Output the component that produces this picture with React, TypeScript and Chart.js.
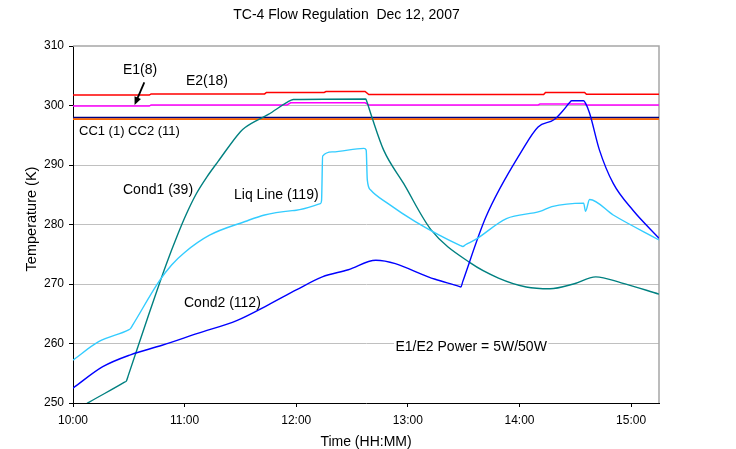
import { useEffect, useRef } from "react";
import { Chart, registerables } from "chart.js";

Chart.register(...registerables);

const FONT = "'Liberation Sans', Arial, Helvetica, sans-serif";

// Clock labels along the time axis; minutes are counted from 10:00.
const xTickLabels = ["10:00", "11:00", "12:00", "13:00", "14:00", "15:00"];
const timeMax = 315; // 15:15

// CC1 (1)
const cc1Time = [0, 315];
const cc1Temp = [297.95, 297.95];

// E1 (8)
const e1Time = [0, 41, 42, 115, 117, 157, 159, 250, 251, 275, 276, 315];
const e1Temp = [299.9, 299.9, 300.1, 300.1, 300.45, 300.45, 300.1, 300.1, 300.25, 300.25, 300.1, 300.1];

// CC2 (11)
const cc2Time = [0, 315];
const cc2Temp = [297.7, 297.7];

// E2 (18)
const e2Time = [0, 41, 42, 103, 104, 135, 136, 157, 159, 253, 254, 275, 276, 315];
const e2Temp = [301.75, 301.75, 301.95, 301.95, 302.2, 302.2, 302.35, 302.35, 301.85, 301.85, 302.2, 302.2, 301.9, 301.9];

// Cond1 (39)
const cond1Time = [0, 8.5, 27.7, 28.7, 29.7, 40, 50, 56.4, 61, 66, 72, 78, 90, 92.5, 105, 117.3, 118.5, 157.4, 157.9, 160.6, 167, 177.7, 192.5, 213.8, 228.7, 243.6, 256.4, 269, 281, 294.7, 315];
const cond1Temp = [248.5, 250.1, 253.5, 253.7, 254.6, 264.2, 273.2, 278.4, 281.8, 285.0, 288.0, 290.6, 295.6, 296.3, 298.5, 300.9, 301.0, 301.1, 300.7, 298.1, 292.5, 286.9, 279.1, 273.5, 271.0, 269.5, 269.2, 270.0, 271.2, 270.2, 268.3];

// Cond2 (112)
const cond2Time = [0, 16, 30.9, 47.9, 67, 88.3, 105, 120, 134, 148, 162.8, 194.7, 207.5, 208.5, 209.5, 222, 241.5, 250, 258.5, 263, 267, 268, 274.5, 275.5, 277.7, 283, 290.4, 301, 315];
const cond2Temp = [252.5, 256.1, 258.1, 259.7, 261.7, 263.9, 266.5, 269.0, 271.2, 272.4, 274.0, 270.8, 269.6, 269.5, 270.4, 281.3, 292.5, 296.4, 297.6, 299.0, 300.5, 300.8, 300.8, 300.4, 298.7, 292.5, 286.9, 282.4, 277.7];

// Liq Line (119)
const liqTime = [0, 13.8, 29.9, 30.9, 31.9, 46.6, 53, 60, 73.4, 92.5, 103, 120, 133, 133.6, 134.2, 139.4, 156.4, 157.6, 158.2, 160, 169, 184, 208, 209.6, 211, 216, 233, 251, 257.4, 274.5, 275.5, 277.7, 290.4, 315];
const liqTemp = [257.2, 260.3, 262.3, 262.5, 263.0, 270.6, 273.2, 275.3, 278.2, 280.5, 281.6, 282.4, 283.5, 284.0, 291.5, 292.2, 292.8, 292.5, 287.5, 285.8, 283.6, 280.5, 276.5, 276.3, 276.6, 277.4, 281.0, 282.2, 283.0, 283.6, 282.2, 284.2, 281.6, 277.4];

const toMinutes = (clock: string) => {
  const [h, m] = clock.split(":").map(Number);
  return (h - 10) * 60 + m;
};

const pts = (t: number[], v: number[]) => t.map((x, i) => ({ x, y: v[i] }));

const curve = (data: { x: number; y: number }[], color: string, width = 1.4) => ({
  data,
  borderColor: color,
  backgroundColor: color,
  borderWidth: width,
  pointRadius: 0,
  cubicInterpolationMode: "monotone" as const,
  fill: false,
});

const trace = (data: { x: number; y: number }[], color: string, width = 1.5) => ({
  data,
  borderColor: color,
  backgroundColor: color,
  borderWidth: width,
  pointRadius: 0,
  tension: 0,
  fill: false,
});

// Plot frame, titles, series names and the power note.
const annotations = {
  id: "annotations",
  beforeDatasetsDraw(chart: Chart) {
    const { ctx, chartArea } = chart;
    ctx.save();
    ctx.strokeStyle = "#a6a6a6";
    ctx.lineWidth = 1.5;
    ctx.beginPath();
    ctx.moveTo(chartArea.left, chartArea.top);
    ctx.lineTo(chartArea.right, chartArea.top);
    ctx.lineTo(chartArea.right, chartArea.bottom);
    ctx.stroke();
    ctx.restore();
  },
  afterDraw(chart: Chart) {
    const { ctx, chartArea } = chart;
    ctx.save();
    ctx.fillStyle = "#000";
    ctx.textBaseline = "alphabetic";

    ctx.font = `14px ${FONT}`;
    ctx.textAlign = "center";
    ctx.fillText("TC-4 Flow Regulation  Dec 12, 2007", 346.5, 18.5);
    ctx.fillText("Time (HH:MM)", (chartArea.left + chartArea.right) / 2, 445.5);

    ctx.save();
    ctx.font = `14.5px ${FONT}`;
    ctx.translate(35.5, 219);
    ctx.rotate(-Math.PI / 2);
    ctx.fillText("Temperature (K)", 0, 0);
    ctx.restore();

    ctx.textAlign = "left";
    ctx.font = `14px ${FONT}`;
    ctx.fillText("E1(8)", 123, 73.5);
    ctx.fillText("E2(18)", 186, 85);
    ctx.fillText("Cond1 (39)", 123, 193.5);
    ctx.fillText("Liq Line (119)", 234, 198.5);
    ctx.fillText("Cond2 (112)", 184, 306.5);
    ctx.font = `13px ${FONT}`;
    ctx.fillText("CC1 (1) CC2 (11)", 79, 135);

    ctx.font = `14px ${FONT}`;
    const note = "E1/E2 Power = 5W/50W";
    const w = ctx.measureText(note).width;
    ctx.fillStyle = "#fff";
    ctx.fillRect(394, 337, w + 3, 17);
    ctx.fillStyle = "#000";
    ctx.fillText(note, 395.5, 350.5);

    // arrow pointing at the E1 trace
    const x0 = 144.3, y0 = 82.3, x1 = 134.6, y1 = 105;
    const ang = Math.atan2(y1 - y0, x1 - x0);
    ctx.strokeStyle = "#000";
    ctx.lineWidth = 1.8;
    ctx.beginPath();
    ctx.moveTo(x0, y0);
    ctx.lineTo(x1 - 5 * Math.cos(ang), y1 - 5 * Math.sin(ang));
    ctx.stroke();
    ctx.beginPath();
    ctx.moveTo(x1, y1);
    ctx.lineTo(x1 - 8 * Math.cos(ang) + 3.5 * Math.sin(ang), y1 - 8 * Math.sin(ang) - 3.5 * Math.cos(ang));
    ctx.lineTo(x1 - 8 * Math.cos(ang) - 3.5 * Math.sin(ang), y1 - 8 * Math.sin(ang) + 3.5 * Math.cos(ang));
    ctx.closePath();
    ctx.fill();
    ctx.restore();
  },
};

export default function App() {
  const ref = useRef<HTMLCanvasElement | null>(null);

  useEffect(() => {
    if (!ref.current) return;
    const tickValues = xTickLabels.map(toMinutes);
    const chart = new Chart(ref.current, {
      type: "line",
      data: {
        datasets: [
          curve(pts(liqTime, liqTemp), "#33ccff"),
          curve(pts(cond2Time, cond2Temp), "#0000ff"),
          curve(pts(cond1Time, cond1Temp), "#008080"),
          trace(pts(e2Time, e2Temp), "#ff0000"),
          trace(pts(cc2Time, cc2Temp), "#ff6600", 1.8),
          trace(pts(e1Time, e1Temp), "#ff00ff"),
          trace(pts(cc1Time, cc1Temp), "#000080", 1.8),
        ],
      },
      options: {
        animation: false,
        responsive: false,
        events: [],
        layout: { padding: { left: 0, right: 77, top: 46, bottom: 0 } },
        plugins: {
          legend: { display: false },
          tooltip: { enabled: false },
          title: { display: false },
        },
        scales: {
          x: {
            type: "linear",
            min: 0,
            max: timeMax,
            afterBuildTicks: (scale: any) => {
              scale.ticks = tickValues.map((value) => ({ value }));
            },
            afterFit: (scale: any) => {
              scale.height = 46;
            },
            ticks: {
              autoSkip: false,
              maxRotation: 0,
              padding: 6,
              color: "#000",
              font: { family: FONT, size: 12 },
              callback: (v: any) => {
                const i = tickValues.indexOf(Number(v));
                return i >= 0 ? xTickLabels[i] : "";
              },
            },
            grid: { drawOnChartArea: false, drawTicks: true, tickLength: 4, tickColor: "#000" },
            border: { color: "#000", width: 1 },
          },
          y: {
            min: 250,
            max: 310,
            afterFit: (scale: any) => {
              scale.width = 73;
            },
            ticks: {
              stepSize: 10,
              padding: 5,
              color: "#000",
              font: { family: FONT, size: 12 },
            },
            grid: {
              color: (c: any) => (c.tick && (c.tick.value === 250 || c.tick.value === 310) ? "rgba(0,0,0,0)" : "#c0c0c0"),
              tickColor: "#000",
              tickLength: 4,
              lineWidth: 1,
            },
            border: { color: "#000", width: 1 },
          },
        },
      },
      plugins: [annotations],
    });
    return () => chart.destroy();
  }, []);

  return (
    <div style={{ position: "absolute", left: 0, top: 0, width: 736, height: 449, background: "#fff" }}>
      <canvas ref={ref} width={736} height={449} />
    </div>
  );
}
